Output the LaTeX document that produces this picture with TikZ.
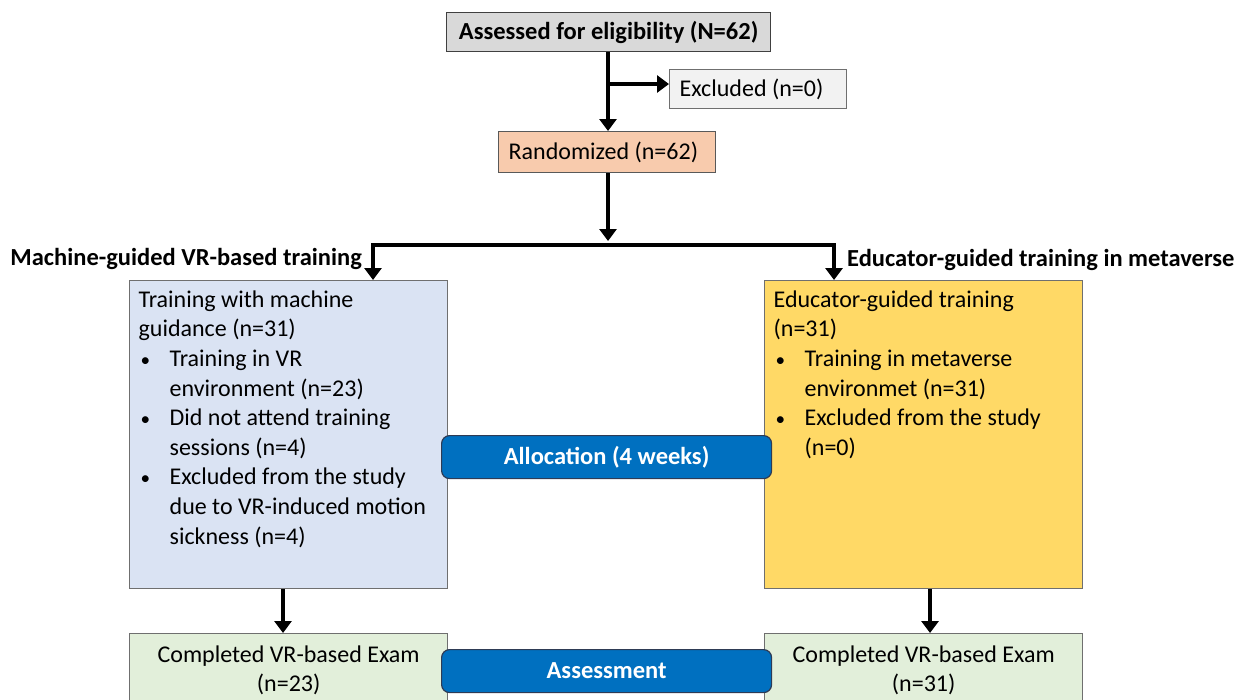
\documentclass[tikz,border=0pt]{standalone}
\usepackage{fontspec}
\setmainfont{Carlito}
\usetikzlibrary{arrows.meta}
\definecolor{boxgray}{HTML}{D9D9D9}
\definecolor{excgray}{HTML}{F2F2F2}
\definecolor{peach}{HTML}{F8CBAD}
\definecolor{lblue}{HTML}{DAE3F3}
\definecolor{gold}{HTML}{FFD966}
\definecolor{lgreen}{HTML}{E2EFDA}
\definecolor{bandblue}{HTML}{0070C0}
\definecolor{edgegray}{HTML}{6F6F6F}
\definecolor{bandedge}{HTML}{2E3B55}
\tikzset{
  x=1pt, y=-1pt,
  every node/.style={font=\fontsize{24}{29.6}\selectfont, inner sep=0pt},
  plainbox/.style={draw=edgegray, line width=1.3pt, anchor=north west},
  band/.style={draw=bandedge, line width=1.2pt, fill=bandblue, rounded corners=8pt,
    anchor=north west, minimum width=330pt, minimum height=43pt, text=white,
    font=\fontsize{24.5}{28}\selectfont\bfseries},
  arr/.style={line width=3.6pt, -{Triangle[length=12pt,width=17pt]}},
  arrboth/.style={line width=3.6pt, {Triangle[length=12pt,width=17pt]}-{Triangle[length=12pt,width=17pt]}},
  headlabel/.style={font=\fontsize{24.5}{28}\selectfont\bfseries}
}
\newcommand{\bul}{\makebox[31pt][l]{\hspace{2pt}\scalebox{0.8}{•}}}
\newcommand{\ind}{\hspace*{31pt}}
\begin{document}
\begin{tikzpicture}
\useasboundingbox (0,0) rectangle (1244,699);
\clip (0,0) rectangle (1244,699);

% top boxes
\node[plainbox, fill=boxgray, draw=black!75, minimum width=324pt, minimum height=39pt,
      font=\fontsize{24.5}{28}\selectfont\bfseries] (asm) at (446,12) {Assessed for eligibility (N=62)};
\node[plainbox, fill=excgray, minimum height=39pt] (exc) at (669,69) {\makebox[177pt][l]{\hspace*{10pt}Excluded (n=0)}};
\node[plainbox, fill=peach, draw=black!65, minimum height=41pt] (rnd) at (498,131) {\makebox[217pt][l]{\hspace*{10pt}Randomized (n=62)}};

% labels
\node[headlabel, anchor=east] (lbl) at (362,259) {Machine-guided VR-based training};
\node[headlabel, anchor=west] (rbl) at (847,260) {Educator-guided training in metaverse};

% group boxes
\node[plainbox, fill=lblue, inner xsep=9pt, inner ysep=6pt] (lbox) at (129,280)
 {\parbox[c][296pt][t]{300pt}{\raggedright\strut Training with machine\\
  guidance (n=31)\\
  \bul Training in VR\\
  \ind environment (n=23)\\
  \bul Did not attend training\\
  \ind sessions (n=4)\\
  \bul Excluded from the study\\
  \ind due to VR-induced motion\\
  \ind sickness (n=4)}};
\node[plainbox, fill=gold, inner xsep=9pt, inner ysep=6pt] (rbox) at (764,280)
 {\parbox[c][296pt][t]{300pt}{\raggedright\strut Educator-guided training\\
  (n=31)\\
  \bul Training in metaverse\\
  \ind environmet (n=31)\\
  \bul Excluded from the study\\
  \ind (n=0)}};

% bottom boxes
\node[plainbox, fill=lgreen, inner sep=0pt] (lfin) at (129,633)
 {\parbox[c][100pt][t]{318pt}{\centering\vspace*{8pt}\strut Completed VR-based Exam\\(n=23)}};
\node[plainbox, fill=lgreen, inner sep=0pt] (rfin) at (764,633)
 {\parbox[c][100pt][t]{318pt}{\centering\vspace*{8pt}\strut Completed VR-based Exam\\(n=31)}};

% bands
\node[band] (alloc) at (441,435) {Allocation (4 weeks)};
\node[band] (assess) at (441,649) {Assessment};

% connectors
\coordinate (tee) at (608,84);
\coordinate (split) at (608,245);
\coordinate (splitL) at (373,245);
\coordinate (splitR) at (834,245);
\draw[arr] (asm.south -| tee) -- (rnd.north -| tee);
\draw[arr] (tee) -- (exc.west |- tee);
\draw[arr] (rnd.south -| split) -- ([yshift=4pt]split);
\draw[arrboth] (lbox.north -| splitL) -- (splitL) -- (splitR) -- (rbox.north -| splitR);
\draw[arr] (lbox.south -| 283,0) -- (lfin.north -| 283,0);
\draw[arr] (rbox.south -| 930,0) -- (rfin.north -| 930,0);
\end{tikzpicture}
\end{document}
